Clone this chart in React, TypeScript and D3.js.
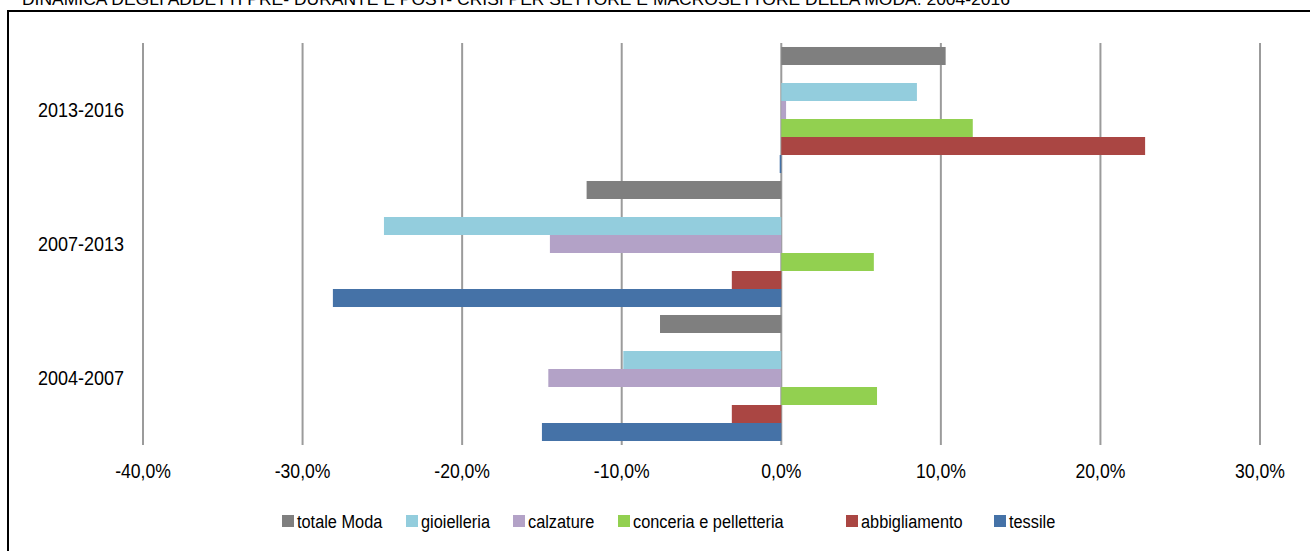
import React, { useEffect, useRef } from 'react'
import * as d3 from 'd3'

// periodi (dall'alto verso il basso)
const categories = ['2013-2016', '2007-2013', '2004-2007']

// serie, nell'ordine in cui compaiono dall'alto in ogni gruppo ('' = posto vuoto)
const slots = ['totale Moda', '', 'gioielleria', 'calzature', 'conceria e pelletteria', 'abbigliamento', 'tessile']

const legendNames = ['totale Moda', 'gioielleria', 'calzature', 'conceria e pelletteria', 'abbigliamento', 'tessile']
const colors = ['#7f7f7f', '#93cddd', '#b3a2c7', '#92d050', '#aa4643', '#4572a7']

// valori per periodo, stesso ordine di legendNames
const totaleModa = [0.103, -0.122, -0.076]
const gioielleria = [0.085, -0.249, -0.099]
const calzature = [0.003, -0.145, -0.146]
const conceria = [0.120, 0.058, 0.060]
const abbigliamento = [0.228, -0.031, -0.031]
const tessile = [-0.001, -0.281, -0.150]

const xTicks = [-0.4, -0.3, -0.2, -0.1, 0, 0.1, 0.2, 0.3]

const title = 'DINAMICA DEGLI ADDETTI PRE- DURANTE E POST- CRISI PER SETTORE E MACROSETTORE DELLA MODA: 2004-2016'

const FONT = '"Liberation Sans", Arial, sans-serif'

const App = () => {
    const ref = useRef<SVGSVGElement>(null)

    useEffect(() => {
        const w = 1310, h = 551
        const svg = d3.select(ref.current)
        svg.selectAll('*').remove()
        svg.attr('width', w).attr('height', h).style('background', '#fff')

        const series = [totaleModa, gioielleria, calzature, conceria, abbigliamento, tessile]

        // titolo tagliato in alto
        svg.append('text')
            .attr('x', 22).attr('y', 5)
            .attr('font-family', FONT).attr('font-size', 16)
            .attr('textLength', 988).attr('lengthAdjust', 'spacingAndGlyphs')
            .text(title)

        // cornice
        svg.append('path')
            .attr('d', `M8,${h + 2}V11H${w + 2}`)
            .attr('fill', 'none').attr('stroke', '#000').attr('stroke-width', 2)

        const x = d3.scaleLinear().domain([-0.4, 0.3]).range([143, 1260])
        const y = d3.scaleBand().domain(categories).range([43, 445])
        const y1 = d3.scaleBand().domain(slots.map((s, i) => String(i)))
            .range([0, y.bandwidth()]).paddingOuter(0.222)

        // griglia verticale
        svg.append('g').selectAll('line').data(xTicks).join('line')
            .attr('x1', d => x(d)).attr('x2', d => x(d))
            .attr('y1', 43).attr('y2', 445)
            .attr('stroke', '#9b9b9b').attr('stroke-width', 2)

        // barre
        legendNames.forEach((name, si) => {
            const slot = String(slots.indexOf(name))
            svg.append('g').selectAll('rect').data(series[si]).join('rect')
                .attr('x', d => x(Math.min(0, d)))
                .attr('width', d => Math.max(1, Math.abs(x(d) - x(0))))
                .attr('y', (d, i) => (y(categories[i]) ?? 0) + (y1(slot) ?? 0))
                .attr('height', y1.bandwidth())
                .attr('fill', colors[si])
        })

        // etichette asse x (carattere stretto)
        svg.append('g').selectAll('text').data(xTicks).join('text')
            .attr('transform', d => `translate(${x(d)},478) scale(0.88,1)`)
            .attr('text-anchor', 'middle')
            .attr('font-family', FONT).attr('font-size', 20)
            .text(d => d3.format('.1%')(d).replace('.', ',').replace('−', '-'))

        // etichette categorie
        svg.append('g').selectAll('text').data(categories).join('text')
            .attr('transform', d => `translate(124,${(y(d) ?? 0) + y.bandwidth() / 2 + 7}) scale(0.9,1)`)
            .attr('text-anchor', 'end')
            .attr('font-family', FONT).attr('font-size', 20)
            .text(d => d)

        // legenda
        const legendX = [282, 406, 513, 618, 846, 994]
        const lg = svg.append('g').selectAll('g').data(legendNames).join('g')
            .attr('transform', (d, i) => `translate(${legendX[i]},521)`)
        lg.append('rect')
            .attr('x', 0).attr('y', -6).attr('width', 12).attr('height', 12)
            .attr('fill', (d, i) => colors[i])
        lg.append('text')
            .attr('transform', 'translate(15,7) scale(0.86,1)')
            .attr('font-family', FONT).attr('font-size', 19)
            .text(d => d)
    }, [])

    return (
        <svg ref={ref} style={{ position: 'absolute', left: 0, top: 0 }} />
    )
}

export default App
